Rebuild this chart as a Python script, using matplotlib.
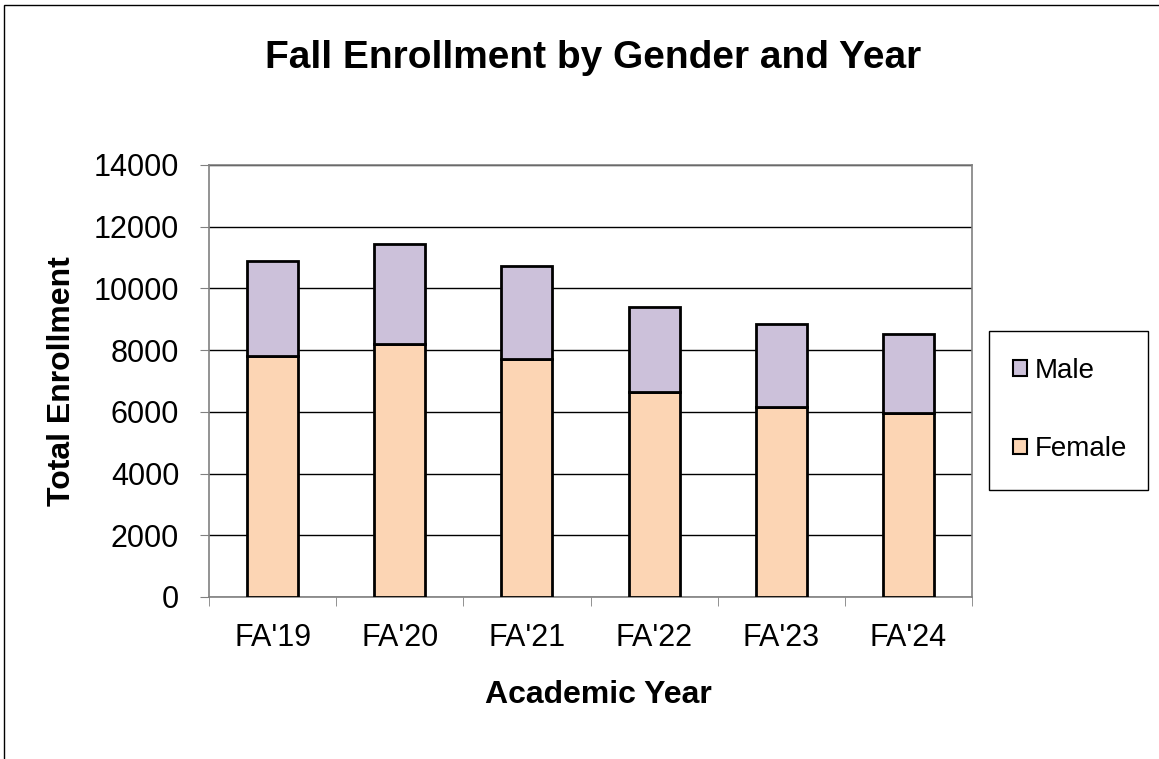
import matplotlib.pyplot as plt
from matplotlib.patches import Rectangle, Patch
import numpy as np

# ── Data ─────────────────────────────────────────────────────────────────────
years  = ["FA'19", "FA'20", "FA'21", "FA'22", "FA'23", "FA'24"]
female = [7815, 8204, 7718, 6632, 6171, 5956]
male   = [3070, 3222, 3015, 2755, 2668, 2560]

FEMALE_C = "#FCD5B4"
MALE_C   = "#CCC1DA"

plt.rcParams["font.family"] = ["Liberation Sans", "DejaVu Sans"]

W, H = 1159, 759
fig = plt.figure(figsize=(W / 100, H / 100), dpi=100)
ax = fig.add_axes([209 / W, 1 - 597 / H, (972 - 209) / W, (597 - 165) / H])

x = np.arange(len(years))
ax.bar(x, female, width=0.4, color=FEMALE_C, edgecolor="black", linewidth=2, zorder=3)
ax.bar(x, male, width=0.4, bottom=female, color=MALE_C, edgecolor="black",
       linewidth=2, zorder=3)

ax.set_xlim(-0.5, len(years) - 0.5)
ax.set_ylim(0, 14000)
ax.set_yticks(range(0, 14001, 2000))
ax.yaxis.grid(True, color="black", linewidth=1)
ax.set_axisbelow(True)

ax.set_xticks(x)
ax.set_xticklabels(years, fontsize=22)
ax.set_xticks(np.arange(-0.5, len(years)), minor=True)
ax.tick_params(axis="x", which="major", length=0, pad=19)
ax.tick_params(axis="x", which="minor", length=6.5, direction="out", color="#808080")
ax.tick_params(axis="y", labelsize=22, length=6.5, color="#808080", pad=15)

for s in ax.spines.values():
    s.set_color("#808080")
    s.set_linewidth(1.2)

fig.text(593 / W, 1 - 58 / H, "Fall Enrollment by Gender and Year",
         ha="center", va="center", fontsize=28, fontweight="bold")
fig.text(598 / W, 1 - 695 / H, "Academic Year", ha="center", va="center",
         fontsize=23, fontweight="bold")
fig.text(62 / W, 1 - 381 / H, "Total Enrollment", ha="center", va="center",
         fontsize=23, fontweight="bold", rotation=90)

# legend box
fig.patches.append(Rectangle((989 / W, 1 - 490 / H), 159 / W, 159 / H,
                             transform=fig.transFigure, fill=False,
                             edgecolor="black", linewidth=1))
handles = [Patch(facecolor=MALE_C, edgecolor="black", linewidth=1.5, label="Male"),
           Patch(facecolor=FEMALE_C, edgecolor="black", linewidth=1.5, label="Female")]
fig.legend(handles=handles, loc="center left", bbox_to_anchor=(1013 / W, 1 - 410 / H),
           frameon=False, fontsize=20, handlelength=0.5, handleheight=0.5,
           handletextpad=0.3, labelspacing=1.9, borderpad=0, borderaxespad=0)

# outer chart border
fig.patches.append(Rectangle((4 / W, -0.01), 1.5, 1 - 5 / H + 0.01,
                             transform=fig.transFigure, fill=False,
                             edgecolor="black", linewidth=1))

fig.savefig("out.png", dpi=100)
